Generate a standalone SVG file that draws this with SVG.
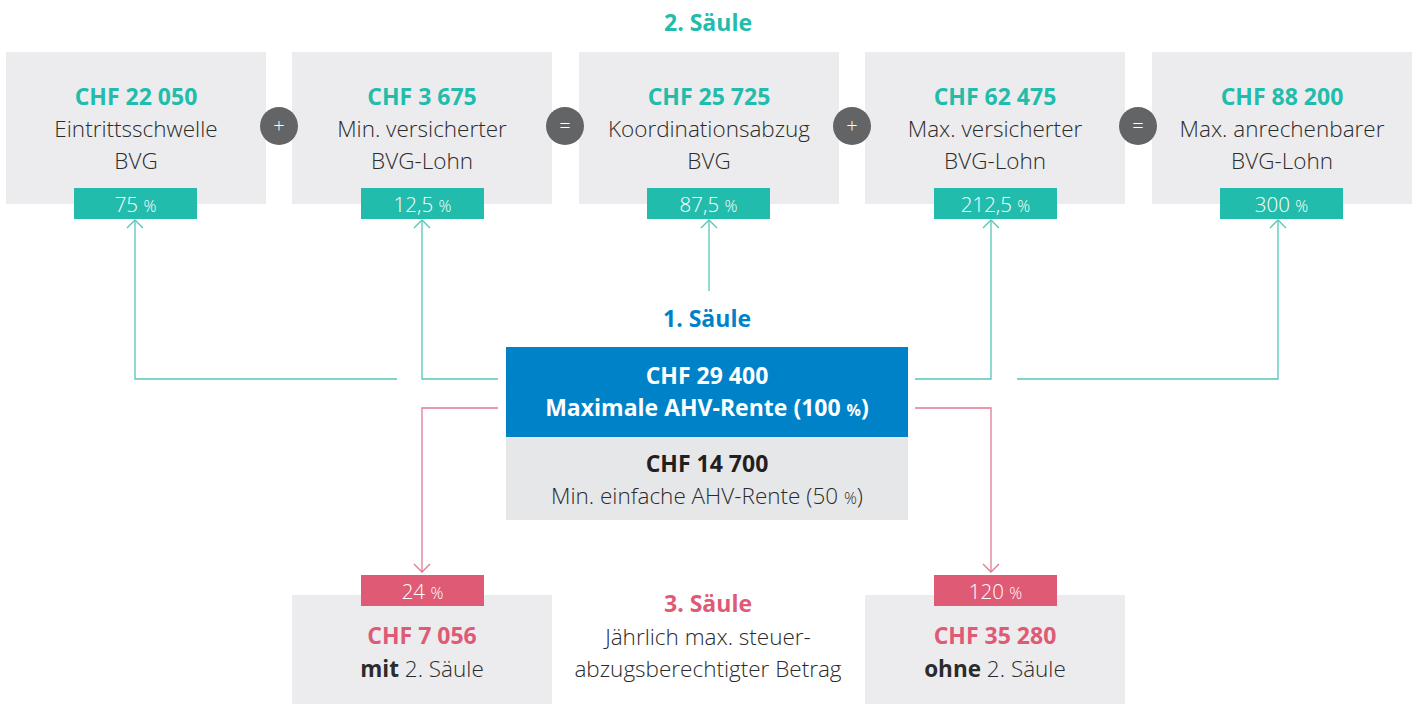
<svg xmlns="http://www.w3.org/2000/svg" width="1417" height="704" viewBox="0 0 1417 704">
<style>
text{font-family:"Open Sans","Liberation Sans",sans-serif;text-anchor:middle}
.box{fill:#ECECEE}
.tb{fill:#22BCAC}
.pb{fill:#DE5A75}
.op{fill:#636466}
.opt{fill:#fff;font-size:20px;font-weight:300}
.h{font-size:23px;font-weight:700}
.tt{fill:#22BCAC}
.pt{fill:#DE5A75}
.bt{fill:#0082C8}
.l{font-size:22.5px;font-weight:300;fill:#2b2b2b}
.pc{font-size:20.5px;font-weight:300;fill:#fff}
.pcs{font-size:16px}
.tl{fill:none;stroke:#55C6B8;stroke-width:1.3}
.pl{fill:none;stroke:#E07A92;stroke-width:1.3}
</style>
<defs>
<marker id="at" markerUnits="userSpaceOnUse" markerWidth="20" markerHeight="20" refX="0" refY="0" orient="auto" overflow="visible"><path d="M-8,-8 L0,0 L-8,8" fill="none" stroke="#55C6B8" stroke-width="1.3"/></marker>
<marker id="ap" markerUnits="userSpaceOnUse" markerWidth="20" markerHeight="20" refX="0" refY="0" orient="auto" overflow="visible"><path d="M-8,-8 L0,0 L-8,8" fill="none" stroke="#E07A92" stroke-width="1.3"/></marker>
</defs>

<text id="title2" x="708" y="31" class="h tt">2. Säule</text>

<g id="n1">
<rect class="box" x="6" y="52" width="260" height="152"/>
<text x="136" y="105" class="h tt">CHF 22 050</text>
<text x="136" y="137" class="l">Eintrittsschwelle</text>
<text x="136" y="169" class="l">BVG</text>
<rect class="tb" x="74" y="188" width="123" height="31"/>
<text x="135.5" y="212" class="pc">75 <tspan class="pcs">%</tspan></text>
</g>
<g id="n2">
<rect class="box" x="292" y="52" width="260" height="152"/>
<text x="422" y="105" class="h tt">CHF 3 675</text>
<text x="422" y="137" class="l">Min. versicherter</text>
<text x="422" y="169" class="l">BVG-Lohn</text>
<rect class="tb" x="361" y="188" width="123" height="31"/>
<text x="422.5" y="212" class="pc">12,5 <tspan class="pcs">%</tspan></text>
</g>
<g id="n3">
<rect class="box" x="579" y="52" width="260" height="152"/>
<text x="709" y="105" class="h tt">CHF 25 725</text>
<text x="709" y="137" class="l">Koordinationsabzug</text>
<text x="709" y="169" class="l">BVG</text>
<rect class="tb" x="647" y="188" width="123" height="31"/>
<text x="708.5" y="212" class="pc">87,5 <tspan class="pcs">%</tspan></text>
</g>
<g id="n4">
<rect class="box" x="865" y="52" width="260" height="152"/>
<text x="995" y="105" class="h tt">CHF 62 475</text>
<text x="995" y="137" class="l">Max. versicherter</text>
<text x="995" y="169" class="l">BVG-Lohn</text>
<rect class="tb" x="934" y="188" width="123" height="31"/>
<text x="995.5" y="212" class="pc">212,5 <tspan class="pcs">%</tspan></text>
</g>
<g id="n5">
<rect class="box" x="1152" y="52" width="260" height="152"/>
<text x="1282" y="105" class="h tt">CHF 88 200</text>
<text x="1282" y="137" class="l">Max. anrechenbarer</text>
<text x="1282" y="169" class="l">BVG-Lohn</text>
<rect class="tb" x="1220" y="188" width="123" height="31"/>
<text x="1281.5" y="212" class="pc">300 <tspan class="pcs">%</tspan></text>
</g>

<g id="op1"><circle class="op" cx="279" cy="126" r="19"/><text x="279" y="133" class="opt">+</text></g>
<g id="op2"><circle class="op" cx="565" cy="126" r="19"/><text x="565" y="133" class="opt">=</text></g>
<g id="op3"><circle class="op" cx="852" cy="126" r="19"/><text x="852" y="133" class="opt">+</text></g>
<g id="op4"><circle class="op" cx="1138" cy="126" r="19"/><text x="1138" y="133" class="opt">=</text></g>

<text id="title1" x="707" y="327" class="h bt">1. Säule</text>

<g id="ahv">
<rect x="506" y="347" width="402" height="90" fill="#0082C8"/>
<text x="707" y="384" class="h" fill="#fff">CHF 29 400</text>
<text x="707" y="416" class="h" fill="#fff">Maximale AHV-Rente (100 <tspan class="pcs">%</tspan>)</text>
<rect x="506" y="437" width="402" height="83" fill="#E6E7E9"/>
<text x="707" y="472" class="h" fill="#231F20">CHF 14 700</text>
<text x="707" y="504" class="l">Min. einfache AHV-Rente (50 <tspan class="pcs">%</tspan>)</text>
</g>

<g id="connectors">
<path class="tl" d="M397,379 H135 V220" marker-end="url(#at)"/>
<path class="tl" d="M498,379 H422 V220" marker-end="url(#at)"/>
<path class="tl" d="M709,291 V220" marker-end="url(#at)"/>
<path class="tl" d="M915,379 H991 V220" marker-end="url(#at)"/>
<path class="tl" d="M1017,379 H1278 V220" marker-end="url(#at)"/>
<path class="pl" d="M498,408 H422 V572" marker-end="url(#ap)"/>
<path class="pl" d="M915,408 H991 V572" marker-end="url(#ap)"/>
</g>

<g id="s3a">
<rect class="box" x="292" y="595" width="260" height="109"/>
<rect class="pb" x="361" y="575" width="123" height="31"/>
<text x="422.5" y="599" class="pc">24 <tspan class="pcs">%</tspan></text>
<text x="422" y="644" class="h pt">CHF 7 056</text>
<text x="422" y="677" class="l"><tspan font-weight="700">mit</tspan> 2. Säule</text>
</g>
<g id="s3mid">
<text x="708" y="612" class="h pt">3. Säule</text>
<text x="708" y="645" class="l">Jährlich max. steuer-</text>
<text x="708" y="677" class="l">abzugsberechtigter Betrag</text>
</g>
<g id="s3b">
<rect class="box" x="865" y="595" width="260" height="109"/>
<rect class="pb" x="934" y="575" width="123" height="31"/>
<text x="995.5" y="599" class="pc">120 <tspan class="pcs">%</tspan></text>
<text x="995" y="644" class="h pt">CHF 35 280</text>
<text x="995" y="677" class="l"><tspan font-weight="700">ohne</tspan> 2. Säule</text>
</g>
</svg>
